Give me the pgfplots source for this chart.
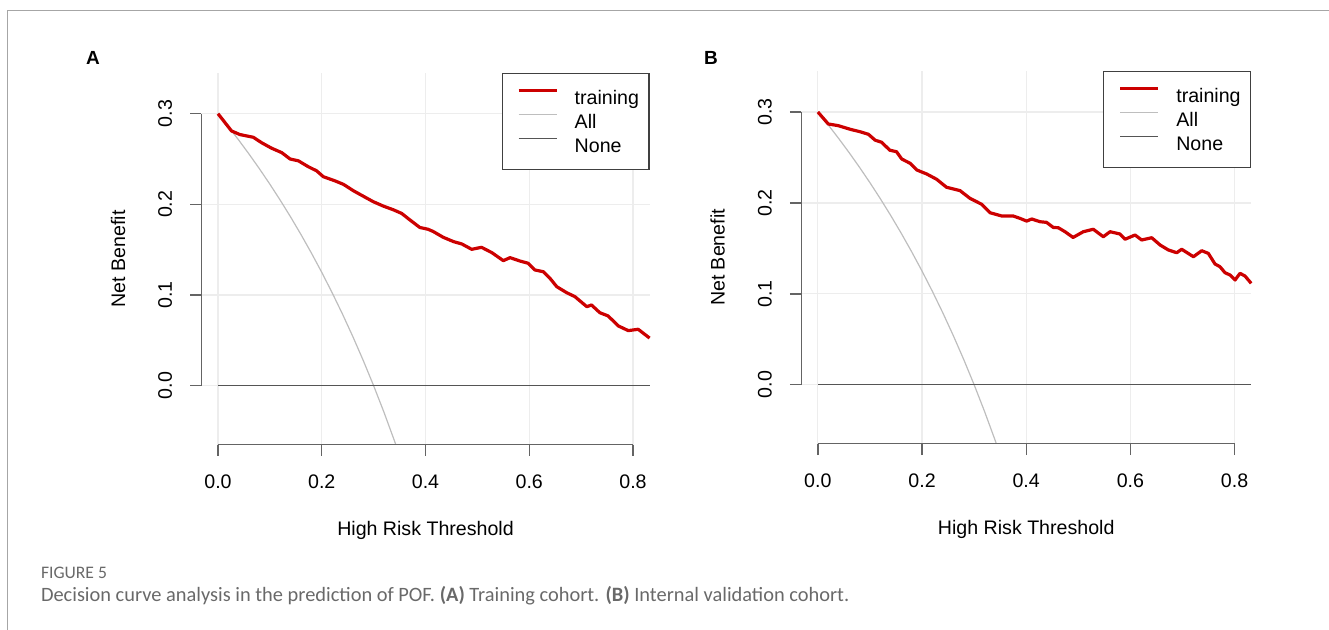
\documentclass[border=0pt]{standalone}
\usepackage{pgfplots}
\pgfplotsset{compat=1.18}
\usepackage{fontspec}
\setmainfont{Liberation Sans}
\newfontfamily\capfont{Carlito}

\definecolor{dcared}{RGB}{204,0,0}
\definecolor{allgray}{RGB}{190,190,190}
\definecolor{nonegray}{RGB}{85,85,85}
\definecolor{axgray}{RGB}{100,100,100}
\definecolor{capgray}{RGB}{105,105,105}
\newcommand\lab{\fontsize{9.8}{11.8}\selectfont}

\pgfplotsset{
  dcaaxis/.style={
    scale only axis, anchor=south west, clip=false,
    xmin=-0.032, xmax=0.832, ymin=-0.065, ymax=0.345,
    xtick={0,0.2,0.4,0.6,0.8}, ytick={0,0.1,0.2,0.3},
    axis x line*=bottom, axis y line*=left,
    axis line style={draw=none},
    tick align=outside, major tick length=5.7pt,
    tick style={axgray, line width=0.7pt},
    grid=major, major grid style={black!7, line width=0.6pt},
    /pgf/number format/fixed, /pgf/number format/fixed zerofill,
    /pgf/number format/precision=1, /pgf/number format/assume math mode=true,
    ticklabel style={font=\lab, inner sep=0pt},
    xticklabel style={anchor=north},
    yticklabel style={rotate=90, anchor=south},
    xticklabel shift=9.2pt, yticklabel shift=8.8pt,
    legend cell align=left,
    legend style={at={(1,1)}, anchor=north east, draw=black!75, line width=0.6pt,
      fill=white, inner xsep=5pt, inner ysep=6pt, row sep=0pt, column sep=8.25pt,
      font=\lab, nodes={inner sep=0pt, text height=9.6pt, text depth=2.4pt}},
    legend image code/.code={\path[draw=none, fill=none] (0pt,3.6pt) -- (22.2pt,3.6pt);
      \draw[##1] (3.2pt,3.6pt) -- (22.2pt,3.6pt);},
  }
}

\begin{document}
\begin{tikzpicture}
\useasboundingbox (0,0) rectangle (664.5pt,315pt);
\draw[black!35, line width=0.6pt] (3.8pt,0pt) -- (3.8pt,309.65pt) -- (664.5pt,309.65pt);

% (A) training cohort
\begin{axis}[dcaaxis, name=A, at={(100.7pt,92.7pt)}, width=224.1pt, height=185.85pt]
\addlegendimage{dcared, line width=1.6pt}\addlegendentry{training}
\addlegendimage{allgray, line width=0.6pt}\addlegendentry{All}
\addlegendimage{nonegray, line width=0.7pt}\addlegendentry{None}
\addplot[allgray, line width=0.6pt, forget plot] coordinates {
(0,0.3) (0.02,0.285714) (0.04,0.270833) (0.06,0.255319) (0.08,0.23913)
(0.10,0.222222) (0.12,0.204545) (0.14,0.186047) (0.16,0.166667) (0.18,0.146341)
(0.20,0.125) (0.22,0.102564) (0.24,0.078947) (0.26,0.054054) (0.28,0.027778)
(0.30,0) (0.32,-0.029412) (0.34,-0.060606) (0.3427,-0.065)};
\addplot[nonegray, line width=0.7pt, forget plot] coordinates {(0,0) (0.832,0)};
\addplot[dcared, line width=1.6pt, line join=round, forget plot] coordinates {
(0,0.300) (0.026,0.281) (0.042,0.277) (0.068,0.274) (0.084,0.268) (0.103,0.262)
(0.123,0.257) (0.139,0.250) (0.155,0.248) (0.174,0.2415) (0.190,0.237) (0.203,0.2305)
(0.226,0.2258) (0.242,0.222) (0.261,0.215) (0.280,0.209) (0.299,0.203) (0.319,0.198)
(0.338,0.194) (0.354,0.190) (0.370,0.1828) (0.389,0.1745) (0.405,0.1725) (0.415,0.170)
(0.434,0.1637) (0.454,0.1589) (0.470,0.1563) (0.489,0.1504) (0.508,0.1526) (0.528,0.1467)
(0.550,0.1379) (0.563,0.1412) (0.582,0.1375) (0.598,0.135) (0.611,0.1276) (0.627,0.1257)
(0.640,0.1184) (0.653,0.1092) (0.672,0.1026) (0.688,0.0982) (0.711,0.0871) (0.720,0.089)
(0.736,0.0805) (0.752,0.0769) (0.772,0.0658) (0.791,0.0607) (0.810,0.0622) (0.832,0.0525)};
\draw[axgray, line width=0.7pt] (axis cs:0,-0.065) -- (axis cs:0.8,-0.065);
\draw[axgray, line width=0.7pt] (axis cs:-0.032,0) -- (axis cs:-0.032,0.3);
\end{axis}

% (B) internal validation cohort
\begin{axis}[dcaaxis, name=B, at={(400.6pt,93.1pt)}, width=225pt, height=186.35pt]
\addlegendimage{dcared, line width=1.6pt}\addlegendentry{training}
\addlegendimage{allgray, line width=0.6pt}\addlegendentry{All}
\addlegendimage{nonegray, line width=0.7pt}\addlegendentry{None}
\addplot[allgray, line width=0.6pt, forget plot] coordinates {
(0,0.3) (0.02,0.285714) (0.04,0.270833) (0.06,0.255319) (0.08,0.23913)
(0.10,0.222222) (0.12,0.204545) (0.14,0.186047) (0.16,0.166667) (0.18,0.146341)
(0.20,0.125) (0.22,0.102564) (0.24,0.078947) (0.26,0.054054) (0.28,0.027778)
(0.30,0) (0.32,-0.029412) (0.34,-0.060606) (0.3427,-0.065)};
\addplot[nonegray, line width=0.7pt, forget plot] coordinates {(0,0) (0.832,0)};
\addplot[dcared, line width=1.6pt, line join=round, forget plot] coordinates {
(0,0.300) (0.020,0.2868) (0.039,0.285) (0.062,0.281) (0.081,0.2783) (0.097,0.2755)
(0.110,0.269) (0.1225,0.2667) (0.138,0.258) (0.151,0.2563) (0.161,0.2483) (0.177,0.2436)
(0.190,0.2362) (0.209,0.2318) (0.228,0.226) (0.247,0.2172) (0.273,0.2135) (0.292,0.205)
(0.3145,0.1985) (0.3305,0.1892) (0.353,0.1856) (0.375,0.1856) (0.388,0.183) (0.401,0.180)
(0.4105,0.1823) (0.4265,0.1793) (0.439,0.1786) (0.452,0.173) (0.4616,0.1727) (0.4745,0.1683)
(0.490,0.162) (0.5096,0.1683) (0.5288,0.171) (0.548,0.1628) (0.561,0.1683) (0.580,0.1658)
(0.5897,0.160) (0.609,0.1647) (0.6217,0.1592) (0.641,0.1617) (0.657,0.1537) (0.673,0.1482)
(0.689,0.1452) (0.6985,0.149) (0.721,0.1408) (0.737,0.1474) (0.7496,0.1445) (0.7625,0.1328)
(0.772,0.1298) (0.7817,0.1232) (0.7913,0.1207) (0.801,0.1152) (0.8105,0.1225) (0.820,0.1196)
(0.832,0.1115)};
\draw[axgray, line width=0.7pt] (axis cs:0,-0.065) -- (axis cs:0.8,-0.065);
\draw[axgray, line width=0.7pt] (axis cs:-0.032,0) -- (axis cs:-0.032,0.3);
\end{axis}

\node[rotate=90, font=\lab] at ([xshift=-41.7pt]A.west) {Net Benefit};
\node[rotate=90, font=\lab] at ([xshift=-41.8pt]B.west) {Net Benefit};
\node[font=\lab] at ([yshift=-42.7pt]A.south) {High Risk Threshold};
\node[font=\lab] at ([yshift=-42.7pt]B.south) {High Risk Threshold};
\node[font=\fontsize{9.5}{11}\selectfont\bfseries] at (46.5pt,286pt) {A};
\node[font=\fontsize{9.5}{11}\selectfont\bfseries] at (355.5pt,286pt) {B};

\node[anchor=west, inner sep=0pt, text=capgray, font=\capfont\fontsize{8.8}{10}\selectfont] at (20.3pt,28.75pt) {FIGURE 5};
\node[anchor=west, inner sep=0pt, text=capgray, font=\capfont\fontsize{10.2}{12}\selectfont] at (20.3pt,17pt)
  {Decision curve analysis in the prediction of POF. \textbf{(A)} Training cohort. \textbf{(B)} Internal validation cohort.};
\end{tikzpicture}
\end{document}
